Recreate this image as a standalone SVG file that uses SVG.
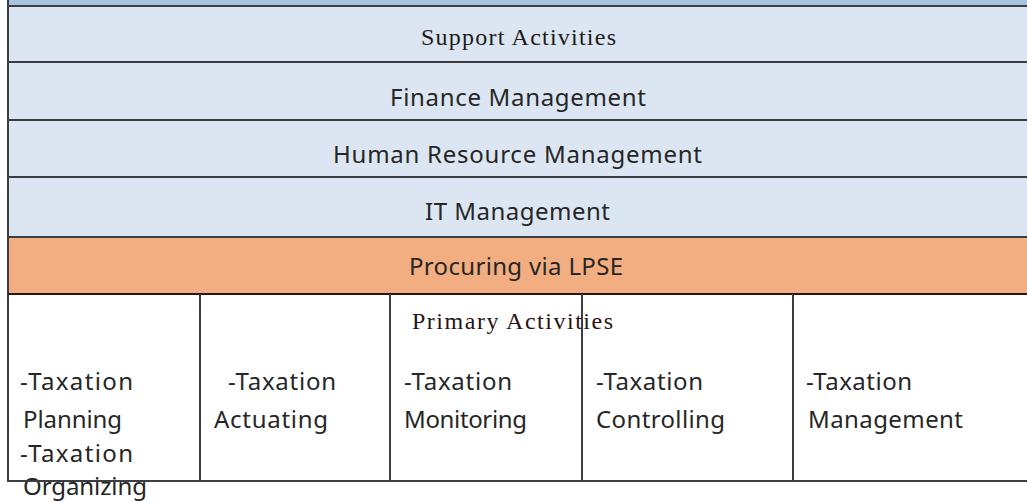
<svg xmlns="http://www.w3.org/2000/svg" width="1027" height="502" viewBox="0 0 1027 502">
<style>
.band{fill:#dce6f2}
.top{fill:#a8c3e0}
.orange{fill:#f2ae80}
.cell{fill:#ffffff}
.ln{stroke:#3a3d42;stroke-width:2;fill:none}
.sans{font-family:"Noto Sans","Liberation Sans",sans-serif;font-size:24px;fill:#262626}
.serif{font-family:"Liberation Serif","DejaVu Serif",serif;font-size:24px;fill:#1e1a1a}
.serifp{font-family:"Liberation Serif","DejaVu Serif",serif;font-size:24px;fill:#2a1414}
</style>
<rect x="0" y="0" width="1027" height="502" fill="#ffffff"/>
<rect class="top" x="8" y="0" width="1019" height="6"/>
<g id="support">
<rect class="band" x="8" y="6" width="1019" height="56"/>
<text class="serif" x="421" y="45" textLength="195" lengthAdjust="spacing">Support Activities</text>
</g>
<g id="finance">
<rect class="band" x="8" y="62" width="1019" height="58"/>
<text class="sans" x="390" y="106" textLength="256" lengthAdjust="spacing">Finance Management</text>
</g>
<g id="hr">
<rect class="band" x="8" y="120" width="1019" height="57"/>
<text class="sans" x="333" y="163" textLength="369" lengthAdjust="spacing">Human Resource Management</text>
</g>
<g id="it">
<rect class="band" x="8" y="177" width="1019" height="60"/>
<text class="sans" x="425" y="220" textLength="185" lengthAdjust="spacing">IT Management</text>
</g>
<g id="procuring">
<rect class="orange" x="8" y="237" width="1019" height="57"/>
<text class="sans" x="409" y="275" textLength="214" lengthAdjust="spacing">Procuring via LPSE</text>
</g>
<g id="primary">
<rect class="cell" x="8" y="294" width="1019" height="187"/>
</g>
<g id="cell-planning">
<text class="sans" x="20" y="390" textLength="113" lengthAdjust="spacing">-Taxation</text>
<text class="sans" x="23" y="428" textLength="99" lengthAdjust="spacing">Planning</text>
<text class="sans" x="20" y="462" textLength="113" lengthAdjust="spacing">-Taxation</text>
<text class="sans" x="23" y="495" textLength="124" lengthAdjust="spacing">Organizing</text>
</g>
<g id="cell-actuating">
<text class="sans" x="228" y="390" textLength="108" lengthAdjust="spacing">-Taxation</text>
<text class="sans" x="214" y="428" textLength="114" lengthAdjust="spacing">Actuating</text>
</g>
<g id="cell-monitoring">
<text class="sans" x="404" y="390" textLength="108" lengthAdjust="spacing">-Taxation</text>
<text class="sans" x="404" y="428" textLength="123" lengthAdjust="spacing">Monitoring</text>
</g>
<g id="cell-controlling">
<text class="sans" x="596" y="390" textLength="107" lengthAdjust="spacing">-Taxation</text>
<text class="sans" x="596" y="428" textLength="129" lengthAdjust="spacing">Controlling</text>
</g>
<g id="cell-management">
<text class="sans" x="806" y="390" textLength="106" lengthAdjust="spacing">-Taxation</text>
<text class="sans" x="808" y="428" textLength="155" lengthAdjust="spacing">Management</text>
</g>
<g id="lines">
<line class="ln" x1="8" y1="0" x2="8" y2="482"/>
<line class="ln" x1="8" y1="6" x2="1027" y2="6"/>
<line class="ln" x1="8" y1="62" x2="1027" y2="62"/>
<line class="ln" x1="8" y1="120" x2="1027" y2="120"/>
<line class="ln" x1="8" y1="177" x2="1027" y2="177"/>
<line class="ln" x1="8" y1="237" x2="1027" y2="237"/>
<line class="ln" x1="8" y1="294" x2="1027" y2="294" style="stroke:#1f1a18"/>
<line class="ln" x1="8" y1="481" x2="1027" y2="481"/>
<line class="ln" x1="200" y1="294" x2="200" y2="481"/>
<line class="ln" x1="390" y1="294" x2="390" y2="481"/>
<line class="ln" x1="582" y1="294" x2="582" y2="481"/>
<line class="ln" x1="793" y1="294" x2="793" y2="481"/>
</g>
<text class="serifp" x="412" y="329" textLength="201" lengthAdjust="spacing">Primary Activities</text>
</svg>
